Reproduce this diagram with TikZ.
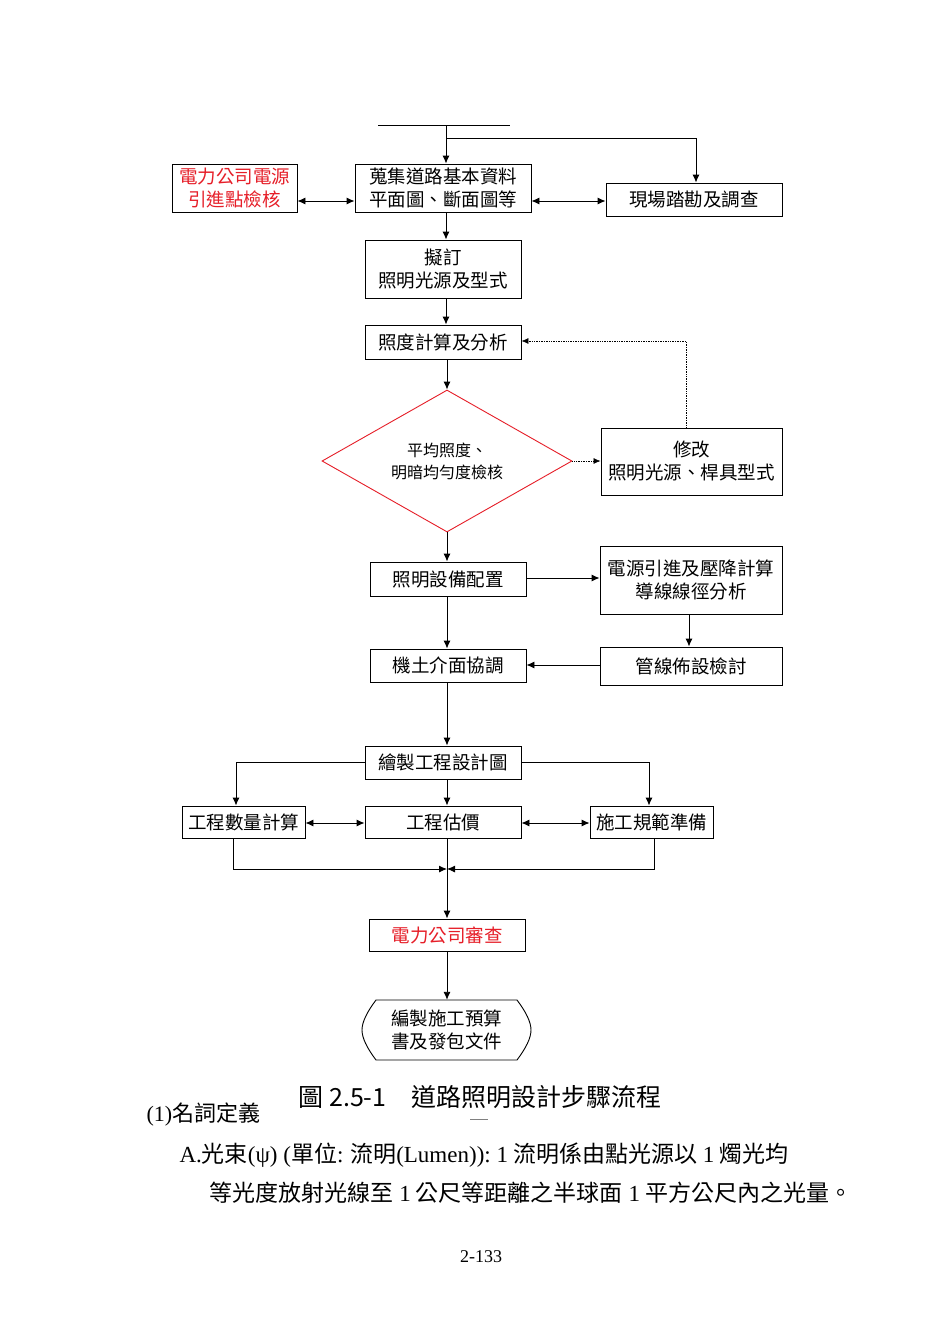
\documentclass[tikz,border=0pt]{standalone}
\usepackage{fontspec}
\setmainfont{Noto Sans CJK TC}
\newfontfamily\lat{Liberation Serif}
\usetikzlibrary{arrows.meta,shapes.geometric}
\definecolor{rd}{RGB}{230,30,40}
\tikzset{x=1pt,y=-1pt,
 bx/.style={draw,line width=0.9pt,inner sep=0pt,align=center,font=\fontsize{18.5}{23}\selectfont},
 ar/.style={line width=0.9pt,-{Latex[length=8pt,width=7pt]}},
 dar/.style={line width=0.9pt,{Latex[length=8pt,width=7pt]}-{Latex[length=8pt,width=7pt]}},
 dot/.style={line width=0.7pt,densely dotted,-{Latex[length=7pt,width=6pt]}}}
\newcommand{\bxat}[6]{\node[bx,minimum width=#4-#2,minimum height=#5-#3,#6] (#1) at ({(#2+#4)/2},{(#3+#5)/2})}
\begin{document}
\begin{tikzpicture}
\useasboundingbox[fill=white] (0,0) rectangle (950,1344);
\bxat{b1}{355}{164}{531}{212}{}{蒐集道路基本資料\\平面圖、斷面圖等};
\bxat{red}{172}{164}{297}{212}{text=rd}{電力公司電源\\引進點檢核};
\bxat{site}{606}{183}{782}{216}{}{現場踏勘及調查};
\bxat{b2}{365}{240}{521}{298}{}{擬訂\\照明光源及型式};
\bxat{b3}{365}{325}{521}{359}{}{照度計算及分析};
\node[draw=rd,diamond,line width=0.9pt,minimum width=250pt,minimum height=142pt,inner sep=0pt,aspect=1.76,align=center,font=\fontsize{16}{22}\selectfont] (dia) at (447,461) {平均照度、\\明暗均勻度檢核};
\bxat{mod}{601}{428}{782}{495}{}{修改\\照明光源、桿具型式};
\bxat{cfg}{370}{562}{526}{596}{}{照明設備配置};
\bxat{pw}{600}{546}{782}{614}{}{電源引進及壓降計算\\導線線徑分析};
\bxat{pipe}{600}{647}{782}{685}{}{管線佈設檢討};
\bxat{mech}{370}{649}{526}{682}{}{機土介面協調};
\bxat{draw}{365}{746}{521}{779}{}{繪製工程設計圖};
\bxat{qty}{182}{806}{305}{838}{}{工程數量計算};
\bxat{est}{365}{806}{521}{838}{}{工程估價};
\bxat{spec}{590}{806}{713}{838}{}{施工規範準備};
\bxat{rev}{369}{919}{525}{951}{text=rd}{電力公司審查};
\node[minimum width=169pt,minimum height=60pt,inner sep=0pt,align=center,font=\fontsize{18.5}{23}\selectfont] (fin) at (446.5,1030) {編製施工預算\\書及發包文件};
\draw[line width=0.9pt] (376,1000) -- (517,1000) .. controls (526,1012) and (531,1022) .. (531,1030) .. controls (531,1038) and (526,1048) .. (517,1060) -- (376,1060) .. controls (367,1048) and (362,1038) .. (362,1030) .. controls (362,1022) and (367,1012) .. (376,1000) -- cycle;
% connectors
\coordinate (tl) at (378,125); \coordinate (tr) at (510,125);
\coordinate (t0) at (446,125); \coordinate (t1) at (446,138); \coordinate (t2) at (696,138);
\draw[line width=0.9pt] (tl) -- (tr);
\draw[ar] (t0) -- (b1.north -| t0);
\draw[ar] (t1) -- (t2) -- (site.north -| t2);
\draw[dar] (red.east |- 0,201) -- (b1.west |- 0,201);
\draw[dar] (b1.east |- 0,201) -- (site.west |- 0,201);
\draw[ar] (b1.south -| 446,0) -- (b2.north -| 446,0);
\draw[ar] (b2.south -| 446,0) -- (b3.north -| 446,0);
\draw[ar] (b3.south -| 447,0) -- (dia.north);
\draw[dot] (dia.east) -- (mod.west |- dia.east);
\coordinate (d1) at (686,341);
\draw[dot] (mod.north -| d1) -- (d1) -- (b3.east |- d1);
\draw[ar] (dia.south) -- (cfg.north -| dia.south);
\draw[ar] (cfg.east |- 0,578) -- (pw.west |- 0,578);
\draw[ar] (pw.south -| 689,0) -- (pipe.north -| 689,0);
\draw[ar] (pipe.west |- 0,665) -- (mech.east |- 0,665);
\draw[ar] (cfg.south -| 447,0) -- (mech.north -| 447,0);
\draw[ar] (mech.south -| 447,0) -- (draw.north -| 447,0);
\draw[ar] (draw.west |- 0,762) -- (236,762) -- (qty.north -| 236,0);
\draw[ar] (draw.east |- 0,762) -- (649,762) -- (spec.north -| 649,0);
\draw[ar] (draw.south -| 447,0) -- (est.north -| 447,0);
\draw[dar] (qty.east |- 0,823) -- (est.west |- 0,823);
\draw[dar] (est.east |- 0,823) -- (spec.west |- 0,823);
\coordinate (m) at (447,869);
\draw[ar] (qty.south -| 233,0) -- (233,869) -- (m);
\draw[ar] (spec.south -| 654,0) -- (654,869) -- (m);
\draw[ar] (est.south -| 447,0) -- (rev.north -| 447,0);
\draw[ar] (rev.south -| 447,0) -- (fin.north -| 447,0);
% text
\node[font=\fontsize{25}{28}\selectfont,anchor=center] (cap) at (480,1097) {圖 2.5-1　道路照明設計步驟流程};
\draw[line width=0.4pt,gray] (470,1119) -- (488,1119);
\node[font=\fontsize{22}{26}\selectfont,anchor=west] (h1) at (143,1115) {{\lat (1)}名詞定義};
\node[font=\fontsize{23}{26}\selectfont,anchor=west] (l1) at (176,1155) {{\lat A.}光束{\lat (ψ) (}單位{\lat :} 流明{\lat (Lumen)):\ 1} 流明係由點光源以{\lat\ 1} 燭光均};
\node[font=\fontsize{23}{26}\selectfont,anchor=west] (l2) at (206,1193) {等光度放射光線至{\lat\ 1} 公尺等距離之半球面{\lat\ 1} 平方公尺內之光量。};
\node[font=\lat\fontsize{18}{20}\selectfont] (pg) at (481,1257) {2-133};
\end{tikzpicture}
\end{document}
